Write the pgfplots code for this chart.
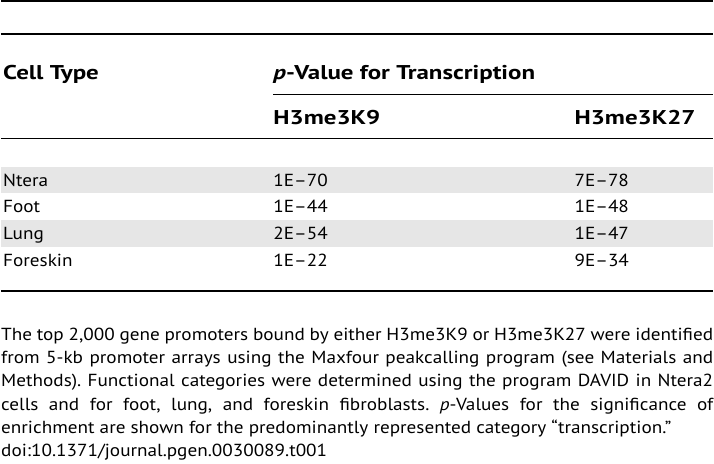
\documentclass[border=0pt]{standalone}
\usepackage{pgfplots}
\pgfplotsset{compat=1.18}
\usepackage{fontspec}
\setmainfont{PT Sans}[FakeStretch=1.1]
\newfontfamily\hdr{PT Sans}[FakeStretch=1.25]
\definecolor{band}{HTML}{E6E6E6}
\begin{document}
\frenchspacing
\fontsize{17.5bp}{23.2bp}\selectfont
\begin{tikzpicture}
\begin{axis}[hide axis, scale only axis, width=714bp, height=465bp,
  xmin=0, xmax=714, ymin=0, ymax=465, y dir=reverse, clip=false]
\path (axis cs:0,0) rectangle (axis cs:714,465);
% bands
\fill[band] (axis cs:0,167) rectangle (axis cs:714,194);
\fill[band] (axis cs:0,221) rectangle (axis cs:714,248);
% rules
\draw[line width=2bp] (axis cs:0,1) -- (axis cs:714,1);
\draw[line width=2bp] (axis cs:0,34) -- (axis cs:714,34);
\draw[line width=1bp] (axis cs:273,95) -- (axis cs:714,95);
\draw[line width=1.5bp] (axis cs:0,139) -- (axis cs:714,139);
\draw[line width=2bp] (axis cs:0,292) -- (axis cs:714,292);
% headers
\tikzset{cell/.style={anchor=base west, inner sep=0pt},
  head/.style={cell, font=\hdr\bfseries\fontsize{20bp}{24bp}\selectfont}}
\node[head] at (axis cs:2,80) {Cell Type};
\node[head] at (axis cs:273,80) {\itshape p\upshape-Value for Transcription};
\node[head] at (axis cs:273,125) {H3me3K9};
\node[head] at (axis cs:575,125) {H3me3K27};
% rows
\node[cell] at (axis cs:2,187) {Ntera};
\node[cell] at (axis cs:273,187) {1E–70};
\node[cell] at (axis cs:575,187) {7E–78};
\node[cell] at (axis cs:2,213.5) {Foot};
\node[cell] at (axis cs:273,213.5) {1E–44};
\node[cell] at (axis cs:575,213.5) {1E–48};
\node[cell] at (axis cs:2,240.5) {Lung};
\node[cell] at (axis cs:273,240.5) {2E–54};
\node[cell] at (axis cs:575,240.5) {1E–47};
\node[cell] at (axis cs:2,267) {Foreskin};
\node[cell] at (axis cs:273,267) {1E–22};
\node[cell] at (axis cs:575,267) {9E–34};
% footnote
\node[anchor=north west, inner sep=0pt, text width=714bp, align=justify,
  font=\fontsize{17.5bp}{23.2bp}\selectfont] at (axis cs:0,329)
{The top 2,000 gene promoters bound by either H3me3K9 or H3me3K27 were identified\linebreak
from 5-kb promoter arrays using the Maxfour peakcalling program (see Materials and\linebreak
Methods). Functional categories were determined using the program DAVID in Ntera2\linebreak
cells and for foot, lung, and foreskin fibroblasts. \emph{p}-Values for the significance of\linebreak
enrichment are shown for the predominantly represented category “transcription.”\\
doi:10.1371/journal.pgen.0030089.t001};
\end{axis}
\end{tikzpicture}
\end{document}
